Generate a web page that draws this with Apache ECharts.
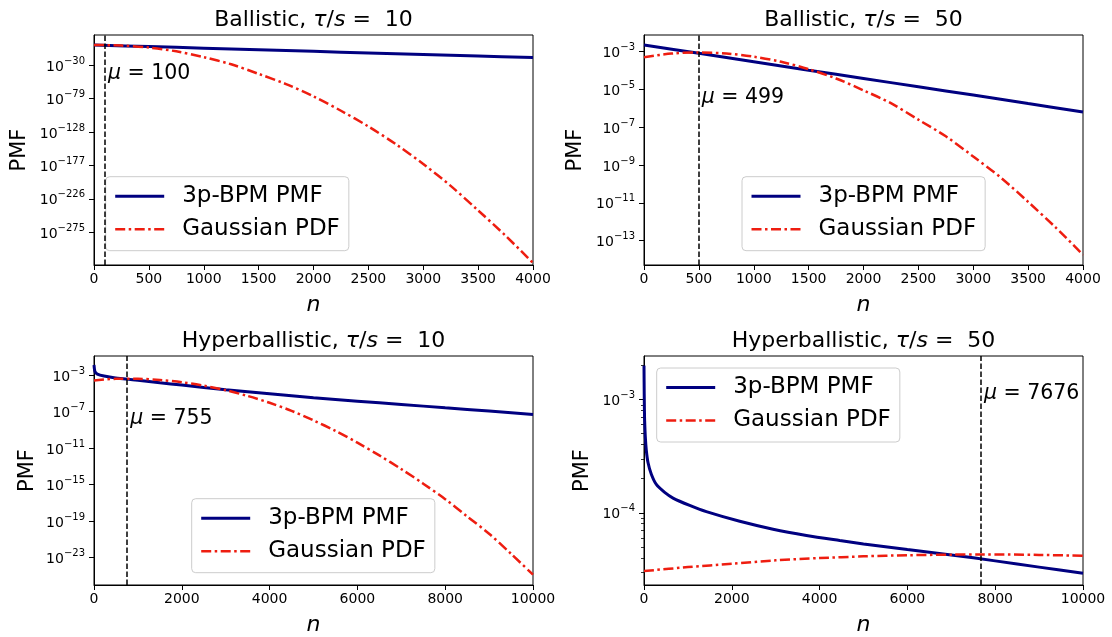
<!DOCTYPE html>
<html><head><meta charset="utf-8">
<script src="https://cdn.jsdelivr.net/npm/echarts@6/dist/echarts.min.js"></script>
<style>html,body{margin:0;padding:0;background:#fff}#c{width:1112px;height:637px}</style>
</head><body><div id="c"></div>
<script>
// ---------- data (values are log10 of PMF / PDF) ----------
// Panel 1: Ballistic, tau/s = 10
const p1BpmN   = [0, 500, 1000, 1500, 2000, 2500, 3000, 3500, 4000];
const p1BpmLog = [-0.7, -3.0, -5.3, -7.6, -10.0, -12.3, -14.6, -16.9, -19.2];
const p1GauN   = [0, 250, 500, 750, 1000, 1250, 1500, 1750, 2000, 2250, 2500, 2750, 3000, 3250, 3500, 3750, 4000];
const p1GauLog = [-0.7, -1.5, -4.5, -10, -18.5, -29, -43, -58, -76, -97, -120, -146, -175, -207, -243, -280, -320];
// Panel 2: Ballistic, tau/s = 50
const p2BpmN   = [0, 500, 1000, 1500, 2000, 2500, 3000, 3500, 4000];
const p2BpmLog = [-2.65, -3.09, -3.53, -3.98, -4.42, -4.86, -5.30, -5.75, -6.19];
const p2GauN   = [0, 250, 500, 750, 1000, 1250, 1500, 1750, 2000, 2250, 2500, 2750, 3000, 3250, 3500, 3750, 4000];
const p2GauLog = [-3.3, -3.1, -3.05, -3.1, -3.27, -3.54, -3.93, -4.42, -5.05, -5.73, -6.6, -7.48, -8.55, -9.66, -10.95, -12.3, -13.75];
// Panel 3: Hyperballistic, tau/s = 10
const p3BpmN   = [0, 10, 23, 76, 228, 456, 755, 1000, 1500, 2000, 3000, 4000, 5000, 6000, 7000, 8000, 9000, 10000];
const p3BpmLog = [-1.87, -2.3, -2.6, -2.86, -3.08, -3.26, -3.42, -3.55, -3.82, -4.07, -4.58, -5.02, -5.46, -5.84, -6.2, -6.57, -6.93, -7.3];
const p3GauN   = [0, 500, 1000, 1500, 2000, 2500, 3000, 3500, 4000, 4500, 5000, 5500, 6000, 6500, 7000, 7500, 8000, 8500, 9000, 9500, 10000];
const p3GauLog = [-3.57, -3.39, -3.39, -3.51, -3.76, -4.14, -4.64, -5.27, -6.02, -6.9, -7.95, -9.1, -10.4, -11.8, -13.3, -14.9, -16.6, -18.5, -20.4, -22.6, -24.9];
// Panel 4: Hyperballistic, tau/s = 50
const p4BpmN   = [0, 5, 10, 15, 30, 53, 91, 167, 281, 471, 661, 1041, 1420, 2180, 2940, 3700, 4460, 5000, 6000, 7000, 8000, 9000, 10000];
const p4BpmLog = [-2.70, -2.95, -3.1, -3.19, -3.33, -3.45, -3.556, -3.66, -3.75, -3.82, -3.87, -3.935, -3.99, -4.075, -4.145, -4.20, -4.245, -4.275, -4.325, -4.372, -4.425, -4.48, -4.535];
const p4GauN   = [0, 1000, 2000, 3000, 4000, 5000, 6000, 7000, 7676, 9000, 10000];
const p4GauLog = [-4.515, -4.48, -4.45, -4.42, -4.40, -4.385, -4.375, -4.37, -4.368, -4.372, -4.38];

const muValues   = [100, 499, 755, 7676];
const regimes    = ['Ballistic', 'Ballistic', 'Hyperballistic', 'Hyperballistic'];
const tauValues  = ['10', '50', '10', '50'];
const seriesNames = ['3p-BPM PMF', 'Gaussian PDF'];
const yTickExps = [
  [-275, -226, -177, -128, -79, -30],
  [-13, -11, -9, -7, -5, -3],
  [-23, -19, -15, -11, -7, -3],
  [-4, -3]
];
const p4MinorMantissas = [2, 3, 4, 5, 6, 7, 8, 9];

// ---------- layout ----------
const FONT = 'DejaVu Sans';
const BLUE = '#000080', RED = '#ee1d10';
const panels = [
  {left: 94,  top: 35,  xMax: 4000,  xInt: 500,  yMin: -322.9, yMax: 13.93, muY: -43.2, legend: {left: 105.7, top: 176.7}, yNameGap: 64, bpm: [p1BpmN, p1BpmLog], gau: [p1GauN, p1GauLog]},
  {left: 644, top: 35,  xMax: 4000,  xInt: 500,  yMin: -14.29, yMax: -2.12, muY: -5.45, legend: {left: 742, top: 176.7}, yNameGap: 58, bpm: [p2BpmN, p2BpmLog], gau: [p2GauN, p2GauLog]},
  {left: 94,  top: 356, xMax: 10000, xInt: 2000, yMin: -26.03, yMax: -0.88, muY: -7.8, legend: {left: 191.7, top: 498.7}, yNameGap: 56, bpm: [p3BpmN, p3BpmLog], gau: [p3GauN, p3GauLog]},
  {left: 644, top: 356, xMax: 10000, xInt: 2000, yMin: -4.638, yMax: -2.615, muY: -2.95, legend: {left: 656.7, top: 368}, yNameGap: 51, bpm: [p4BpmN, p4BpmLog], gau: [p4GauN, p4GauLog]}
];
const W = 439, H = 230;

function pts(xs, ys) { return xs.map((x, i) => [x, ys[i]]); }
function expLabel(v) {
  const e = Math.round(v);
  return '{b|10}{s|' + String(e).replace('-', '\u2212') + '}';
}

const grid = [], xAxis = [], yAxis = [], title = [], legend = [], series = [];
panels.forEach((p, i) => {
  grid.push({left: p.left, top: p.top, width: W, height: H, show: true, borderColor: '#000', borderWidth: 1, containLabel: false});
  title.push({
    text: regimes[i] + ', {i|\u03c4}/{i|s} =  ' + tauValues[i],
    left: p.left + W / 2, top: p.top - 26, textAlign: 'center', padding: 0,
    textStyle: {fontFamily: FONT, fontSize: 22, fontWeight: 'normal', color: '#000',
      rich: {i: {fontFamily: FONT, fontSize: 22, fontStyle: 'italic', color: '#000'}}}
  });
  xAxis.push({
    type: 'value', gridIndex: i, min: 0, max: p.xMax, interval: p.xInt,
    name: 'n', nameLocation: 'middle', nameGap: 29,
    nameTextStyle: {fontFamily: FONT, fontSize: 22, fontStyle: 'italic', color: '#000'},
    axisLine: {show: true, onZero: false, lineStyle: {color: '#000', width: 1}},
    axisTick: {show: true, length: 5, lineStyle: {color: '#000', width: 1}},
    axisLabel: {fontFamily: FONT, fontSize: 14, color: '#000', margin: 7, formatter: v => String(v)},
    splitLine: {show: false}
  });
  yAxis.push({
    type: 'value', gridIndex: i, position: 'left', min: p.yMin, max: p.yMax,
    name: 'PMF', nameLocation: 'middle', nameRotate: 90, nameGap: p.yNameGap,
    nameTextStyle: {fontFamily: FONT, fontSize: 21, color: '#000'},
    axisLine: {show: true, onZero: false, lineStyle: {color: '#000', width: 1}},
    axisTick: {show: true, length: 5, customValues: yTickExps[i], lineStyle: {color: '#000', width: 1}},
    axisLabel: {customValues: yTickExps[i], formatter: expLabel, margin: 9, color: '#000',
      rich: {
        b: {fontFamily: FONT, fontSize: 14, color: '#000', lineHeight: 18, verticalAlign: 'bottom'},
        s: {fontFamily: FONT, fontSize: 10, color: '#000', lineHeight: 10, verticalAlign: 'top'}
      }},
    splitLine: {show: false}
  });
  const muText = '{i|\u03bc} = ' + muValues[i];
  series.push({
    name: seriesNames[0], type: 'line', xAxisIndex: i, yAxisIndex: i,
    data: pts(p.bpm[0], p.bpm[1]), smooth: 0.3, symbol: 'none', showSymbol: false,
    lineStyle: {color: BLUE, width: 3}, itemStyle: {color: BLUE}, z: 2,
    markLine: {silent: true, symbol: ['none', 'none'], label: {show: false}, animation: false,
      lineStyle: {color: '#000', type: [5.5, 2.5], width: 1.5}, data: [{xAxis: muValues[i]}]},
    markPoint: {silent: true, symbol: 'circle', symbolSize: 0, animation: false,
      data: [{coord: [muValues[i], p.muY], itemStyle: {color: 'rgba(0,0,0,0)'},
        label: {show: true, position: 'right', distance: 3, formatter: muText,
          fontFamily: FONT, fontSize: 20.5, color: '#000',
          rich: {i: {fontFamily: FONT, fontSize: 20.5, fontStyle: 'italic', color: '#000'}}}}]}
  });
  series.push({
    name: seriesNames[1], type: 'line', xAxisIndex: i, yAxisIndex: i,
    data: pts(p.gau[0], p.gau[1]), smooth: 0.3, symbol: 'none', showSymbol: false,
    lineStyle: {color: RED, width: 2.5, type: [10, 3.5, 2.5, 3.5]}, itemStyle: {color: RED}, z: 3
  });
  legend.push({
    left: p.legend.left, top: p.legend.top, orient: 'vertical', selectedMode: false,
    itemWidth: 49, itemHeight: 14, itemGap: 10,
    padding: [8, 9, 10, 8], backgroundColor: 'rgba(255,255,255,0.8)',
    borderColor: '#cccccc', borderWidth: 1, borderRadius: 4,
    textStyle: {fontFamily: FONT, fontSize: 23, color: '#000', padding: [0, 0, 0, 13]},
    data: [
      {name: seriesNames[0], itemStyle: {opacity: 0, color: 'rgba(0,0,0,0)', borderWidth: 0},
       lineStyle: {color: BLUE, width: 3, type: 'solid'}},
      {name: seriesNames[1], itemStyle: {opacity: 0, color: 'rgba(0,0,0,0)', borderWidth: 0},
       lineStyle: {color: RED, width: 2.5, type: [10, 3.5, 2.5, 3.5]}}
    ]
  });
});

// minor ticks for the log axis of panel 4
const p4Minor = [];
[-5, -4, -3].forEach(d => p4MinorMantissas.forEach(m => {
  const v = Math.log10(m) + d;
  if (v > panels[3].yMin && v < panels[3].yMax) p4Minor.push(v);
}));
yAxis.push({
  type: 'value', gridIndex: 3, position: 'left', min: panels[3].yMin, max: panels[3].yMax,
  axisLine: {show: false, onZero: false}, axisLabel: {show: false}, splitLine: {show: false},
  axisTick: {show: true, length: 3, customValues: p4Minor, lineStyle: {color: '#000', width: 0.8}}
});

const chart = echarts.init(document.getElementById('c'), null, {renderer: 'canvas'});
chart.setOption({animation: false, backgroundColor: '#fff', title, grid, xAxis, yAxis, legend, series});
</script>
</body></html>
